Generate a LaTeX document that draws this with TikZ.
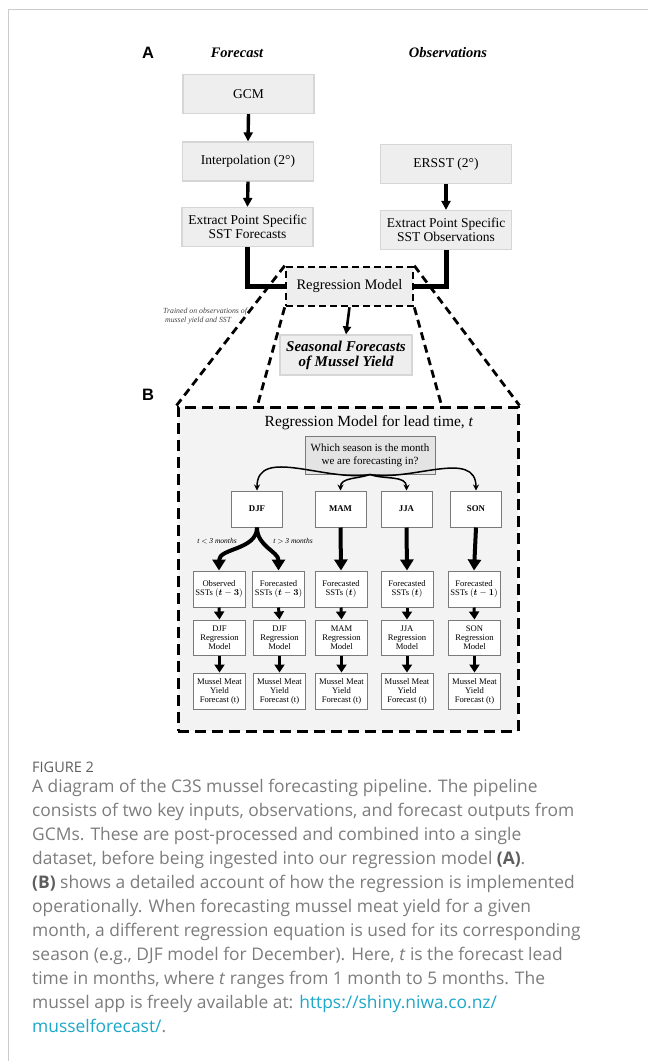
\documentclass[tikz,border=0pt]{standalone}
\usepackage{fontspec}
\setmainfont{Liberation Serif}
\newfontfamily\capfont{Open Sans}
\newfontfamily\labfont{Liberation Sans}
\usepackage{bm}
\usetikzlibrary{arrows.meta}
\definecolor{boxfill}{HTML}{EEEEEE}
\definecolor{boxedge}{HTML}{D6D6D6}
\definecolor{panelfill}{HTML}{F3F3F3}
\definecolor{whichfill}{HTML}{E4E4E4}
\definecolor{smalledge}{HTML}{7A7A7A}
\definecolor{framec}{HTML}{CCCCCC}
\definecolor{capgray}{HTML}{7C7C7C}
\definecolor{capdark}{HTML}{5E5E5E}
\definecolor{link}{HTML}{1CA7C9}
\definecolor{notegray}{HTML}{444444}
\begin{document}
\begin{tikzpicture}[x=1pt,y=-1pt,
  topbox/.style={draw=boxedge, fill=boxfill, line width=1.2pt, minimum width=131pt, minimum height=39pt, inner sep=0pt, align=center, font=\fontsize{13.5}{14.5}\selectfont},
  regbox/.style={draw=black, fill=boxfill, line width=2.6pt, dash pattern=on 7pt off 4pt, minimum width=127pt, minimum height=39pt, inner sep=0pt, font=\fontsize{14.5}{16}\selectfont},
  panel/.style={draw=black, fill=panelfill, line width=3pt, dash pattern=on 11pt off 6pt, minimum width=340pt, minimum height=324pt, inner sep=0pt},
  diag/.style={draw=black, line width=2.8pt, dash pattern=on 8pt off 5pt},
  whichbox/.style={draw=smalledge, fill=whichfill, line width=1pt, minimum width=130pt, minimum height=38pt, inner sep=0pt, align=center, font=\fontsize{11}{13}\selectfont},
  seasonbox/.style={draw=smalledge, fill=white, line width=1pt, minimum width=51pt, minimum height=36pt, inner sep=0pt, font=\fontsize{8.8}{10}\selectfont\bfseries},
  smallbox/.style={draw=smalledge, fill=white, line width=1pt, minimum width=52pt, minimum height=36pt, inner sep=0pt, align=center, font=\fontsize{8.6}{9}\selectfont},
  bigarrow/.style={line width=3.4pt, -{Triangle[width=9pt,length=9pt]}},
  medarrow/.style={line width=2.6pt, -{Triangle[width=8pt,length=8pt]}},
  thickarrow/.style={line width=4pt, -{Triangle[width=13pt,length=11pt]}},
  rowarrow/.style={line width=3pt, -{Triangle[width=10pt,length=8pt]}},
  thinarrow/.style={line width=1.5pt, -{Stealth[width=6pt,length=6pt]}},
  connector/.style={line width=5pt, line join=miter},
  heading/.style={font=\fontsize{14.5}{16}\selectfont\bfseries\itshape},
  panellabel/.style={font=\labfont\fontsize{16.5}{18}\selectfont\bfseries},
  captext/.style={font=\capfont\fontsize{17.4}{24}\selectfont, text=capgray, inner sep=0pt}
]
\useasboundingbox (0,0) rectangle (648,1061);
\draw[framec, line width=1pt] (8,1061) -- (8,9) -- (648,9);

% panel B background
\node[panel] (bpanel) at (348,569) {};

% Panel A
\node[panellabel] (labA) at (148,53) {A};
\node[heading] (hfc) at (237,53) {Forecast};
\node[heading] (hobs) at (448,53) {Observations};

\node[topbox] (gcm) at (248.5,94) {GCM};
\node[topbox] (interp) at (248,161.5) {Interpolation (2°)};
\node[topbox] (fext) at (247.5,227) {Extract Point Specific\\SST Forecasts};
\node[topbox] (ersst) at (446,164) {ERSST (2°)};
\node[topbox] (oext) at (446,230) {Extract Point Specific\\SST Observations};

\draw[bigarrow] (gcm.south) -- (interp.north);
\draw[bigarrow] (interp.south) -- (fext.north);
\draw[bigarrow] (ersst.south) -- (oext.north);

\node[regbox] (reg) at (349.5,286.5) {Regression Model};
\draw[connector] (fext.south) |- (reg.west);
\draw[connector] (oext.south) |- (reg.east);

\node[topbox, minimum width=132pt, minimum height=40pt, font=\fontsize{15}{15}\selectfont\bfseries\itshape] (seas) at (346,355) {Seasonal Forecasts\\of Mussel Yield};
\draw[medarrow] (reg.south) -- (seas.north);

\node[anchor=west, align=left, inner sep=0pt, text=notegray, font=\fontsize{7.8}{9}\selectfont\itshape] (note) at (163,316.5) {Trained on observations of\\\ mussel yield and SST};

\coordinate (bl) at (257,407);
\coordinate (br) at (442,407);
\draw[diag] (reg.north west) -- (bpanel.north west);
\draw[diag] (reg.north east) -- (bpanel.north east);
\draw[diag] (reg.south west) -- (bl);
\draw[diag] (reg.south east) -- (br);

% Panel B
\node[panellabel] (labB) at (148,395) {B};
\node[font=\fontsize{15.5}{17}\selectfont] (btitle) at (369,423) {Regression Model for lead time, \textit{t}};
\node[whichbox] (which) at (370,455) {Which season is the month\\we are forecasting in?};

\node[seasonbox] (djf) at (257,509) {DJF};
\node[seasonbox] (mam) at (340.5,509) {MAM};
\node[seasonbox] (jja) at (406.5,509) {JJA};
\node[seasonbox] (son) at (476,509) {SON};

\draw[thinarrow] (which.south) to[out=190,in=90] (djf.north);
\draw[thinarrow] (which.south) to[out=200,in=90] (mam.north);
\draw[thinarrow] (which.south) to[out=-20,in=90] (jja.north);
\draw[thinarrow] (which.south) to[out=-10,in=90] (son.north);

\node[smallbox] (s1) at (219,589) {Observed\\SSTs $(\bm{t}-\bm{3})$};
\node[smallbox] (s2) at (278.5,589) {Forecasted\\SSTs $(\bm{t}-\bm{3})$};
\node[smallbox] (s3) at (341,589) {Forecasted\\SSTs $(\bm{t})$};
\node[smallbox] (s4) at (407,589) {Forecasted\\SSTs $(\bm{t})$};
\node[smallbox] (s5) at (474,589) {Forecasted\\SSTs $(\bm{t}-\bm{1})$};

\draw[thickarrow] (djf.south) to[out=-90,in=90] (s1.north);
\draw[thickarrow] (djf.south) to[out=-90,in=90] (s2.north);
\draw[thickarrow] (mam.south) -- (s3.north);
\draw[thickarrow] (jja.south) -- (s4.north);
\draw[thickarrow] (son.south) -- (s5.north);

\node[font=\fontsize{7.5}{9}\selectfont\itshape] (lt1) at (217,541) {t $<$ 3 months};
\node[font=\fontsize{7.5}{9}\selectfont\itshape] (lt2) at (293,541) {t $>$ 3 months};

\node[smallbox, minimum height=35pt] (r1) at (219.5,637.5) {DJF\\Regression\\Model};
\node[smallbox, minimum height=35pt] (r2) at (279.5,637.5) {DJF\\Regression\\Model};
\node[smallbox, minimum height=35pt] (r3) at (341.5,637.5) {MAM\\Regression\\Model};
\node[smallbox, minimum height=35pt] (r4) at (407,637.5) {JJA\\Regression\\Model};
\node[smallbox, minimum height=35pt] (r5) at (474.5,637.5) {SON\\Regression\\Model};

\node[smallbox] (m1) at (219.5,691) {Mussel Meat\\Yield\\Forecast (t)};
\node[smallbox] (m2) at (279.5,691) {Mussel Meat\\Yield\\Forecast (t)};
\node[smallbox] (m3) at (341.5,691) {Mussel Meat\\Yield\\Forecast (t)};
\node[smallbox] (m4) at (407,691) {Mussel Meat\\Yield\\Forecast (t)};
\node[smallbox] (m5) at (474.5,691) {Mussel Meat\\Yield\\Forecast (t)};

\foreach \i in {1,...,5} {
  \draw[rowarrow] (s\i.south) -- (r\i.north);
  \draw[rowarrow] (r\i.south) -- (m\i.north);
}

% Caption
\node[anchor=base west, inner sep=0pt, text=capdark, font=\capfont\fontsize{14.5}{16}\selectfont] (figlab) at (32,772) {FIGURE 2};
\foreach \txt [count=\i] in {
  {A diagram of the C3S mussel forecasting pipeline. The pipeline},
  {consists of two key inputs, observations, and forecast outputs from},
  {GCMs. These are post-processed and combined into a single},
  {dataset, before being ingested into our regression model {\bfseries\color{capdark}(A)}.},
  {{\bfseries\color{capdark}(B)} shows a detailed account of how the regression is implemented},
  {operationally. When forecasting mussel meat yield for a given},
  {month, a different regression equation is used for its corresponding},
  {season (e.g., DJF model for December). Here, \textit{t} is the forecast lead},
  {time in months, where \textit{t} ranges from 1 month to 5 months. The},
  {mussel app is freely available at: {\color{link}https://shiny.niwa.co.nz/}},
  {{\color{link}musselforecast/}.}
} {
  \node[captext, anchor=base west] (cap\i) at (32,{792+24*(\i-1)}) {\txt};
}
\end{tikzpicture}
\end{document}
